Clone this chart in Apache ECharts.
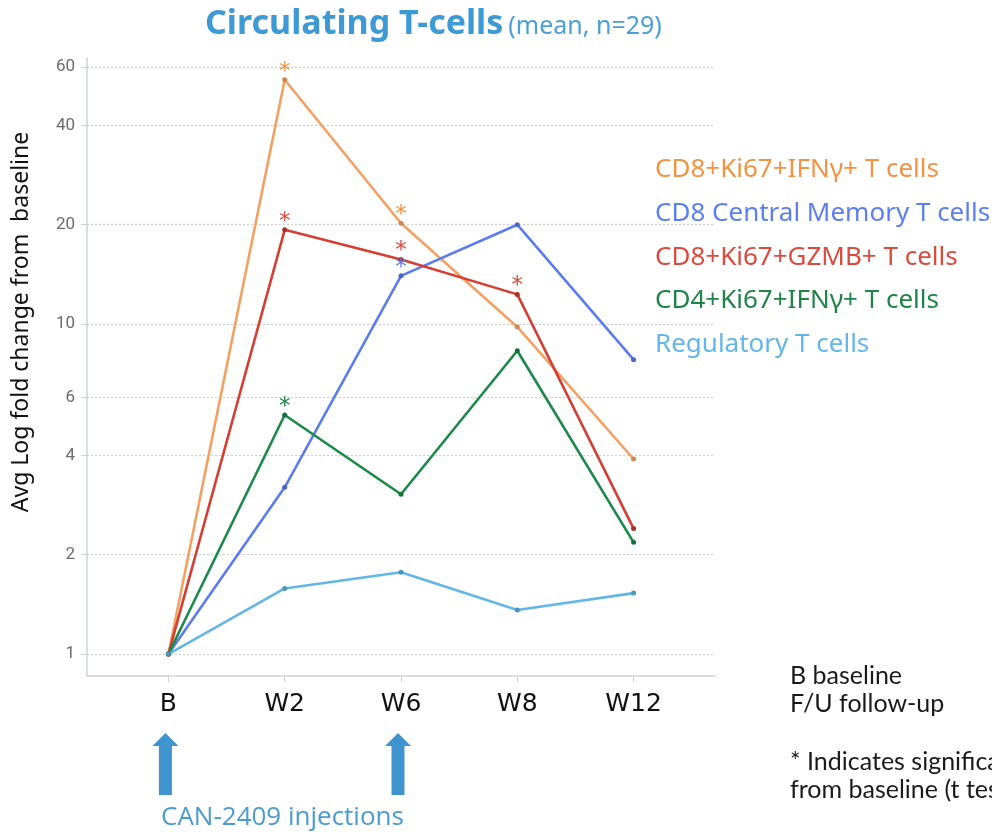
<!DOCTYPE html>
<html>
<head>
<meta charset="utf-8">
<style>
  html, body { margin: 0; padding: 0; background: #fff; }
  #chart { width: 992px; height: 839px; }
</style>
<script src="https://cdn.jsdelivr.net/npm/echarts@6.0.0/dist/echarts.min.js"></script>
</head>
<body>
<div id="chart"></div>
<script>
// Visits (x axis) and y-axis tick values
const visits = ['B', 'W2', 'W6', 'W8', 'W12'];
const yTicks = [1, 2, 4, 6, 10, 20, 40, 60];

// Mean fold change from baseline per T-cell population
const cd8Ki67Ifng = [1, 55, 20.2, 9.8, 3.9];
const cd8CentralMemory = [1, 3.2, 14.0, 20.0, 7.8];
const cd8Ki67Gzmb = [1, 19.3, 15.7, 12.3, 2.4];
const cd4Ki67Ifng = [1, 5.3, 3.05, 8.3, 2.18];
const regulatory = [1, 1.58, 1.77, 1.36, 1.53];

// Significant change from baseline (t test) flags, one per visit
const sigCd8Ki67Ifng = [false, true, true, false, false];
const sigCd8CentralMemory = [false, false, true, false, false];
const sigCd8Ki67Gzmb = [false, true, true, true, false];
const sigCd4Ki67Ifng = [false, true, false, false, false];
const sigRegulatory = [false, false, false, false, false];

// Visits that received an injection
const injectionVisits = ['B', 'W6'];

const populations = [
  { name: 'CD8+Ki67+IFNγ+ T cells', values: cd8Ki67Ifng, sig: sigCd8Ki67Ifng, line: '#F4A060', dot: '#C98A55', text: '#F39242' },
  { name: 'CD8 Central Memory T cells', values: cd8CentralMemory, sig: sigCd8CentralMemory, line: '#5A7CF0', dot: '#4A67C8', text: '#5C7EF2' },
  { name: 'CD8+Ki67+GZMB+ T cells', values: cd8Ki67Gzmb, sig: sigCd8Ki67Gzmb, line: '#D43F33', dot: '#A8302A', text: '#DC4A3E' },
  { name: 'CD4+Ki67+IFNγ+ T cells', values: cd4Ki67Ifng, sig: sigCd4Ki67Ifng, line: '#1A8A4A', dot: '#16703C', text: '#1E8448' },
  { name: 'Regulatory T cells', values: regulatory, sig: sigRegulatory, line: '#62B6E8', dot: '#4D95C0', text: '#62B6EA' }
];

const chart = echarts.init(document.getElementById('chart'), null, { renderer: 'canvas' });

const series = populations.map(p => ({
  name: p.name,
  type: 'line',
  symbol: 'circle',
  symbolSize: 5,
  showSymbol: true,
  lineStyle: { color: p.line, width: 2.6 },
  itemStyle: { color: p.dot },
  emphasis: { disabled: true },
  z: 3,
  data: p.values.map((v, i) => ({
    value: [i, v],
    label: p.sig[i] ? {
      show: true,
      formatter: '*',
      position: 'top',
      distance: -6,
      color: p.text,
      fontSize: 23,
      fontFamily: 'DejaVu Sans'
    } : { show: false }
  }))
}));

const option = {
  animation: false,
  title: {
    text: '{b|Circulating T-cells} {n|(mean, n=29)}',
    left: 200,
    top: 2,
    textStyle: {
      rich: {
        b: { fontSize: 34, fontWeight: 'bold', color: '#3E9AD4', fontFamily: 'Noto Sans' },
        n: { fontSize: 25, fontWeight: 'normal', color: '#4A9FD6', fontFamily: 'Noto Sans', padding: [5, 0, 0, 0] }
      }
    }
  },
  legend: {
    orient: 'vertical',
    left: 645,
    top: 152,
    icon: 'none',
    itemWidth: 0,
    itemHeight: 22,
    itemGap: 17.6,
    selectedMode: false,
    data: populations.map(p => ({ name: p.name, textStyle: { color: p.text } })),
    textStyle: { fontSize: 26, fontFamily: 'Noto Sans' }
  },
  grid: { left: 87, right: 277, top: 58, bottom: 163, containLabel: false },
  xAxis: {
    type: 'value',
    min: -0.7,
    max: 4.7,
    axisLine: { show: true, onZero: false, lineStyle: { color: '#cfd3da', width: 1.5 } },
    axisTick: { show: true, customValues: [0, 1, 2, 3, 4], length: 6, lineStyle: { color: '#cfd3da' } },
    axisLabel: {
      customValues: [0, 1, 2, 3, 4],
      formatter: v => visits[Math.round(v)],
      fontSize: 25,
      color: '#111',
      margin: 16,
      fontFamily: 'DejaVu Sans'
    },
    splitLine: { show: false }
  },
  yAxis: {
    type: 'log',
    logBase: 10,
    min: 0.858,
    max: 64,
    name: 'Avg Log fold change from  baseline',
    nameLocation: 'middle',
    nameGap: 54,
    nameTextStyle: { fontSize: 23, color: '#111', fontFamily: 'Noto Sans', padding: [0, 0, 0, 90] },
    axisLine: { show: true, onZero: false, lineStyle: { color: '#cfd3da', width: 1.5 } },
    axisTick: { show: true, customValues: yTicks, length: 6, lineStyle: { color: '#cfd3da' } },
    axisLabel: {
      customValues: yTicks,
      formatter: v => String(v),
      fontSize: 17,
      color: '#6b6b6b',
      margin: 12,
      fontFamily: 'Roboto'
    },
    splitLine: { show: true, lineStyle: { color: '#cccccc', type: [2, 2], width: 1.2 } }
  },
  series: series
};

chart.setOption(option);

// Injection arrows under the visits that received CAN-2409, plus notes
function drawAnnotations() {
  const arrowColor = '#3F93CF';
  const elements = [];
  injectionVisits.forEach(v => {
    const x = chart.convertToPixel({ xAxisIndex: 0 }, visits.indexOf(v)) - 3;
    const top = 733, bottom = 795, headH = 13, headW = 13, shaftW = 6.5;
    elements.push({
      type: 'polygon',
      shape: {
        points: [
          [x, top], [x + headW, top + headH], [x + shaftW, top + headH],
          [x + shaftW, bottom], [x - shaftW, bottom], [x - shaftW, top + headH],
          [x - headW, top + headH]
        ]
      },
      style: { fill: arrowColor }
    });
  });
  elements.push({
    type: 'text', left: 161, top: 805,
    style: { text: 'CAN-2409 injections', fill: '#4A9BD0', fontSize: 26, fontFamily: 'Open Sans' }
  });
  elements.push({
    type: 'text', left: 790, top: 662,
    style: { text: 'B baseline\nF/U follow-up', fill: '#1a1a1a', fontSize: 25, lineHeight: 28, fontFamily: 'Lato' }
  });
  elements.push({
    type: 'text', left: 790, top: 748,
    style: { text: '* Indicates significant change\nfrom baseline (t test)', fill: '#1a1a1a', fontSize: 25, lineHeight: 28, fontFamily: 'Lato' }
  });
  chart.setOption({ graphic: { elements: elements } });
}
drawAnnotations();
</script>
</body>
</html>
